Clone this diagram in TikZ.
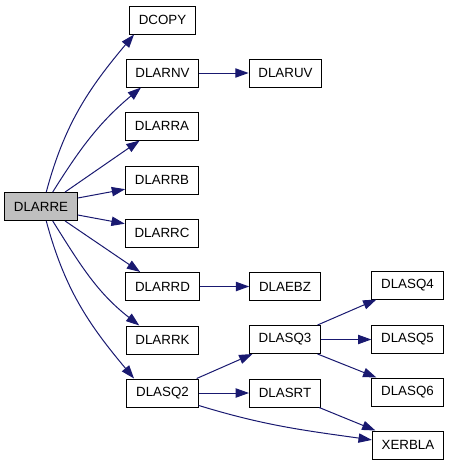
\documentclass[tikz,border=0pt]{standalone}
\usepackage{fontspec}
\setmainfont{Liberation Sans}
\usepackage{tikz}
\usetikzlibrary{arrows.meta}
\usepackage{xcolor}
\definecolor{edgeblue}{RGB}{25,25,112}
\definecolor{rootgray}{RGB}{191,191,191}

\begin{document}
\begin{tikzpicture}[x=0.75pt,y=-0.75pt,
        fn/.style={draw=black, line width=0.75pt, fill=white, font=\fontsize{10}{12}\selectfont, inner xsep=7pt, inner ysep=0pt, minimum height=21pt},
        call/.style={draw=edgeblue, line width=0.75pt, -{Triangle[length=10pt,width=7pt]}}]
        \useasboundingbox (0,0) rectangle (451,465);
        % caller
        \node[fn, fill=rootgray] (dlarre) at (41,206.5) {DLARRE};
        % first level
        \node[fn] (dcopy) at (162.5,20) {DCOPY};
        \node[fn] (dlarnv) at (162.5,73) {DLARNV};
        \node[fn] (dlarra) at (162,126) {DLARRA};
        \node[fn] (dlarrb) at (162,180) {DLARRB};
        \node[fn] (dlarrc) at (162,233) {DLARRC};
        \node[fn] (dlarrd) at (162.5,286.5) {DLARRD};
        \node[fn] (dlarrk) at (162.5,340) {DLARRK};
        \node[fn] (dlasq2) at (162.5,393) {DLASQ2};
        % second level
        \node[fn] (dlaruv) at (285.5,73) {DLARUV};
        \node[fn] (dlaebz) at (285,286.5) {DLAEBZ};
        \node[fn] (dlasq3) at (285,339.5) {DLASQ3};
        \node[fn] (dlasrt) at (285,393) {DLASRT};
        % third level
        \node[fn] (dlasq4) at (407.5,285) {DLASQ4};
        \node[fn] (dlasq5) at (407.5,339.5) {DLASQ5};
        \node[fn] (dlasq6) at (407.5,392) {DLASQ6};
        \node[fn] (xerbla) at (408,445) {XERBLA};

        % calls from dlarre
        \draw[call] (dlarre.70) to[out=75,in=-130] (dcopy.-153);
        \draw[call] (dlarre.51) to[out=58,in=-140] (dlarnv.-146);
        \draw[call] (dlarre.31) -- (dlarra.-147);
        \draw[call] (dlarre.13) -- (dlarrb.-166);
        \draw[call] (dlarre.-13) -- (dlarrc.166);
        \draw[call] (dlarre.-31) -- (dlarrd.147);
        \draw[call] (dlarre.-51) to[out=-58,in=142] (dlarrk.148);
        \draw[call] (dlarre.-70) to[out=-75,in=130] (dlasq2.153);
        % deeper calls
        \draw[call] (dlarnv) -- (dlaruv);
        \draw[call] (dlarrd) -- (dlaebz);
        \draw[call] (dlasq2.23) -- (dlasq3.-156);
        \draw[call] (dlasq2) -- (dlasrt);
        \draw[call] (dlasq2.-19) to[out=-17,in=172] (xerbla.172);
        \draw[call] (dlasrt.-23) -- (xerbla.156);
        \draw[call] (dlasq3.24) -- (dlasq4.-155);
        \draw[call] (dlasq3) -- (dlasq5);
        \draw[call] (dlasq3.-24) -- (dlasq6.155);
\end{tikzpicture}
\end{document}
